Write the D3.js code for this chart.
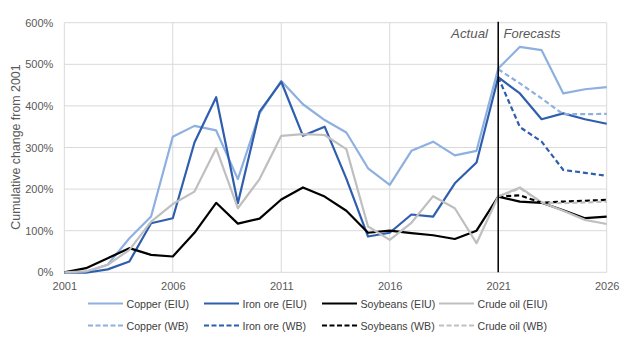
<!DOCTYPE html>
<html><head><meta charset="utf-8">
<script src="https://cdn.jsdelivr.net/npm/d3@7"></script>
<style>
body{margin:0;background:#fff;}
text{font-family:"Liberation Sans",Arial,sans-serif;}
</style></head>
<body><svg id="c" width="636" height="340"></svg>
<script>
const years = d3.range(2001, 2027);
const wbYears = [2021, 2022, 2023, 2024, 2025, 2026];
const copperEIU = [0,1,18,82,134,326,352,341,224,382,460,404,366,336,250,210,292,314,281,292,490,542,534,430,440,445];
const ironEIU   = [0,-1,7,26,118,130,312,421,166,386,458,328,350,225,86,95,139,134,214,264,469,430,368,382,368,357];
const soyEIU    = [0,10,34,58,42,38,95,167,117,129,175,204,182,148,95,100,94,89,80,100,182,170,167,149,130,134];
const crudeEIU  = [0,2,18,54,122,164,194,298,154,224,328,332,330,296,110,78,119,183,154,70,182,204,168,148,126,116];
const copperWB  = [488,454,418,380,380,381];
const ironWB    = [469,349,314,246,239,232];
const soyWB     = [182,185,167,170,172,174];
const crudeWB   = [182,202,168,166,168,170];
const yTicks = [0,100,200,300,400,500,600];
const xTicks = [2001,2006,2011,2016,2021,2026];
const colors = {copper:"#8EB0E0", iron:"#2F5EAE", soy:"#000000", crude:"#BFBFBF"};

const series = [
  {name:"Copper (EIU)", x:years, v:copperEIU, c:colors.copper, dash:null},
  {name:"Iron ore (EIU)", x:years, v:ironEIU, c:colors.iron, dash:null},
  {name:"Soybeans (EIU)", x:years, v:soyEIU, c:colors.soy, dash:null},
  {name:"Crude oil (EIU)", x:years, v:crudeEIU, c:colors.crude, dash:null},
  {name:"Copper (WB)", x:wbYears, v:copperWB, c:colors.copper, dash:"5,3"},
  {name:"Iron ore (WB)", x:wbYears, v:ironWB, c:colors.iron, dash:"5,3"},
  {name:"Soybeans (WB)", x:wbYears, v:soyWB, c:colors.soy, dash:"5,3"},
  {name:"Crude oil (WB)", x:wbYears, v:crudeWB, c:colors.crude, dash:"5,3"}
];

const svg = d3.select("#c");
const x = d3.scaleLinear().domain([2001,2026]).range([64.3,606.7]);
const y = d3.scaleLinear().domain([0,600]).range([272.3,22.7]);

// grid
svg.append("g").selectAll("line").data(yTicks).join("line")
  .attr("x1",x(2001)).attr("x2",x(2026)).attr("y1",d=>y(d)).attr("y2",d=>y(d))
  .attr("stroke","#D9D9D9").attr("stroke-width",1);
svg.append("g").selectAll("line").data(xTicks).join("line")
  .attr("y1",y(0)).attr("y2",y(600)).attr("x1",d=>x(d)).attr("x2",d=>x(d))
  .attr("stroke","#D9D9D9").attr("stroke-width",1);

// axes
const yAxis = d3.axisLeft(y).tickValues(yTicks).tickFormat(d=>d+"%").tickSize(0).tickPadding(11);
const ga = svg.append("g").attr("transform",`translate(${x(2001)},0)`).call(yAxis);
ga.select(".domain").remove();
ga.selectAll("text").attr("fill","#595959").style("font-size","11px").style("font-family","'Liberation Sans',Arial,sans-serif");
const xAxis = d3.axisBottom(x).tickValues(xTicks).tickFormat(d3.format("d")).tickSize(0).tickPadding(10);
const gx = svg.append("g").attr("transform",`translate(0,${y(0)})`).call(xAxis);
gx.select(".domain").remove();
gx.selectAll("text").attr("fill","#595959").style("font-size","11px").style("font-family","'Liberation Sans',Arial,sans-serif");

svg.append("text").attr("transform",`translate(16,147) rotate(-90)`)
  .attr("text-anchor","middle").attr("dominant-baseline","central")
  .attr("fill","#595959").style("font-size","12.4px").text("Cumulative change from 2001");

// lines
const line = d3.line().x(d=>x(d[0])).y(d=>y(d[1]));
series.forEach(s=>{
  svg.append("path").datum(s.x.map((yr,i)=>[yr,s.v[i]]))
    .attr("d",line).attr("fill","none").attr("stroke",s.c).attr("stroke-width",2.2)
    .attr("stroke-linejoin","round")
    .attr("stroke-dasharray",s.dash);
});

// divider
svg.append("line").attr("x1",x(2021)).attr("x2",x(2021)).attr("y1",y(600)-1).attr("y2",y(0))
  .attr("stroke","#000").attr("stroke-width",1.5);
svg.append("text").attr("x",488).attr("y",33).attr("text-anchor","end")
  .attr("dominant-baseline","central").attr("font-style","italic")
  .attr("fill","#595959").style("font-size","13.3px").text("Actual");
svg.append("text").attr("x",503.5).attr("y",33).attr("text-anchor","start")
  .attr("dominant-baseline","central").attr("font-style","italic")
  .attr("fill","#595959").style("font-size","13px").text("Forecasts");

// legend
const legX = [88,204,322,439], legY = [303.5,325.5];
const leg = svg.append("g");
series.forEach((s,i)=>{
  const lx = legX[i%4], ly = legY[Math.floor(i/4)];
  leg.append("line").attr("x1",lx).attr("x2",lx+35).attr("y1",ly).attr("y2",ly)
    .attr("stroke",s.c).attr("stroke-width",2.2).attr("stroke-dasharray",s.dash ? "5,2.5" : null);
  leg.append("text").attr("x",lx+38.5).attr("y",ly).attr("dominant-baseline","central")
    .attr("fill","#404040").style("font-size","10.6px").text(s.name);
});
</script></body></html>
